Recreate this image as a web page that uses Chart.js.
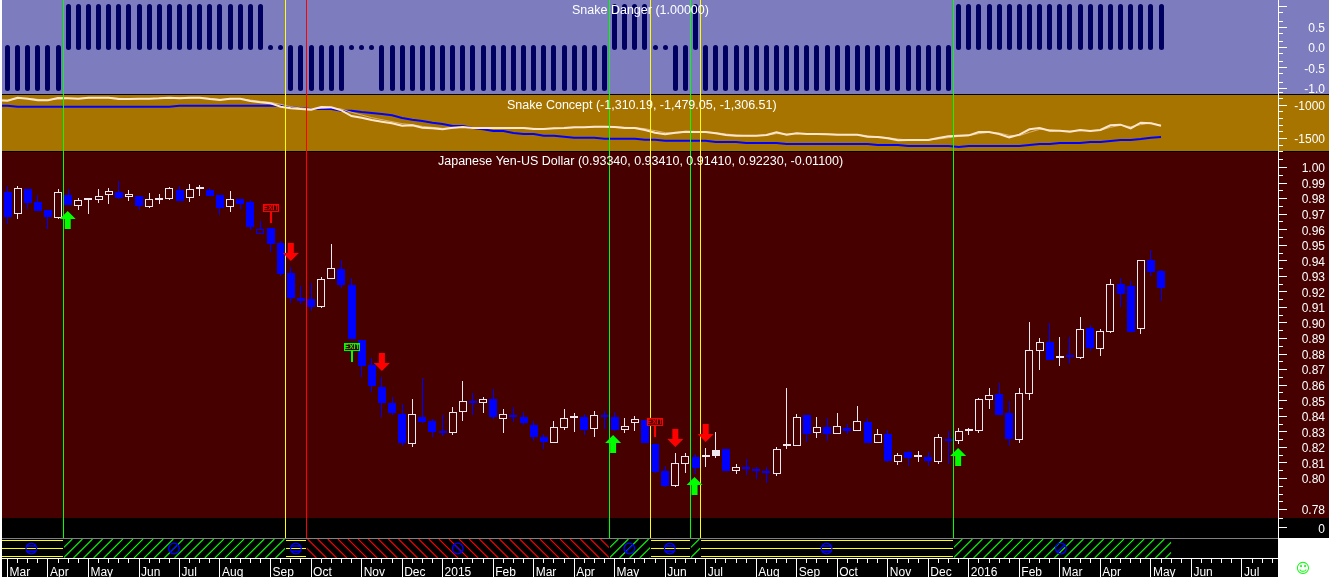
<!DOCTYPE html>
<html>
<head>
<meta charset="utf-8">
<title>Japanese Yen-US Dollar</title>
<script src="https://cdn.jsdelivr.net/npm/chart.js@4"></script>
<style>
    html, body { margin: 0; padding: 0; background: #fff; }
    canvas { display: block; }
</style>
</head>
<body>
<canvas id="chart" width="1329" height="577"></canvas>
<script>
// Weekly candles
const opens = [
    0.9842, 0.9703, 0.9860, 0.9778, 0.9727, 0.9675, 0.9823, 0.9751, 0.9788, 0.9791,
    0.9823, 0.9842, 0.9808, 0.9817, 0.9744, 0.9794, 0.9796, 0.9855, 0.9802, 0.9859,
    0.9855, 0.9821, 0.9744, 0.9796, 0.9778, 0.9603, 0.9611, 0.9513, 0.9320, 0.9161,
    0.9153, 0.9105, 0.9285, 0.9345, 0.9243, 0.8891, 0.8728, 0.8587, 0.8484, 0.8415,
    0.8224, 0.8394, 0.8368, 0.8301, 0.8295, 0.8430, 0.8497, 0.8484, 0.8510, 0.8385,
    0.8407, 0.8394, 0.8342, 0.8265, 0.8227, 0.8327, 0.8387, 0.8394, 0.8317, 0.8407,
    0.8394, 0.8314, 0.8355, 0.8376, 0.8222, 0.8047, 0.7952, 0.8095, 0.8137, 0.8139,
    0.8145, 0.8188, 0.8048, 0.8070, 0.8055, 0.8044, 0.8029, 0.8209, 0.8211, 0.8407,
    0.8295, 0.8329, 0.8288, 0.8325, 0.8308, 0.8364, 0.8227, 0.8286, 0.8108, 0.8171,
    0.8139, 0.8137, 0.8108, 0.8252, 0.8239, 0.8304, 0.8308, 0.8507, 0.8544, 0.8419,
    0.8250, 0.8546, 0.8822, 0.8878, 0.8775, 0.8788, 0.8775, 0.8968, 0.8835, 0.8944,
    0.9251, 0.9238, 0.8960, 0.9405, 0.9334
];
const highs = [
    0.9881, 0.9881, 0.9862, 0.9823, 0.9727, 0.9862, 0.9862, 0.9804, 0.9797, 0.9862,
    0.9868, 0.9913, 0.9855, 0.9817, 0.9836, 0.9830, 0.9875, 0.9881, 0.9894, 0.9887,
    0.9868, 0.9823, 0.9849, 0.9797, 0.9791, 0.9656, 0.9611, 0.9525, 0.9358, 0.9238,
    0.9255, 0.9294, 0.9508, 0.9405, 0.9289, 0.8891, 0.8775, 0.8651, 0.8522, 0.8479,
    0.8511, 0.8646, 0.8381, 0.8407, 0.8460, 0.8627, 0.8548, 0.8524, 0.8574, 0.8447,
    0.8460, 0.8428, 0.8368, 0.8286, 0.8370, 0.8447, 0.8421, 0.8415, 0.8434, 0.8432,
    0.8428, 0.8389, 0.8402, 0.8376, 0.8222, 0.8081, 0.8164, 0.8164, 0.8158, 0.8196,
    0.8299, 0.8188, 0.8094, 0.8126, 0.8074, 0.8074, 0.8203, 0.8582, 0.8417, 0.8407,
    0.8396, 0.8389, 0.8421, 0.8351, 0.8466, 0.8389, 0.8319, 0.8312, 0.8164, 0.8177,
    0.8177, 0.8171, 0.8286, 0.8306, 0.8325, 0.8325, 0.8518, 0.8582, 0.8614, 0.8499,
    0.8582, 0.9007, 0.8904, 0.9000, 0.8910, 0.8910, 0.9039, 0.8987, 0.8962, 0.9283,
    0.9289, 0.9270, 0.9403, 0.9470, 0.9341
];
const lows = [
    0.9637, 0.9669, 0.9733, 0.9720, 0.9605, 0.9669, 0.9759, 0.9727, 0.9701, 0.9772,
    0.9765, 0.9797, 0.9785, 0.9727, 0.9740, 0.9765, 0.9791, 0.9785, 0.9778, 0.9817,
    0.9817, 0.9695, 0.9714, 0.9733, 0.9598, 0.9572, 0.9459, 0.9302, 0.9127, 0.9122,
    0.9077, 0.9097, 0.9285, 0.9225, 0.8897, 0.8655, 0.8558, 0.8398, 0.8409, 0.8209,
    0.8203, 0.8355, 0.8267, 0.8274, 0.8282, 0.8370, 0.8407, 0.8421, 0.8383, 0.8293,
    0.8364, 0.8344, 0.8241, 0.8190, 0.8227, 0.8314, 0.8301, 0.8278, 0.8269, 0.8319,
    0.8306, 0.8293, 0.8306, 0.8227, 0.8036, 0.7946, 0.7946, 0.8036, 0.8029, 0.8074,
    0.8132, 0.8048, 0.8029, 0.8023, 0.7997, 0.7971, 0.8016, 0.8190, 0.8211, 0.8235,
    0.8261, 0.8239, 0.8288, 0.8286, 0.8308, 0.8229, 0.8227, 0.8106, 0.8087, 0.8081,
    0.8106, 0.8081, 0.8094, 0.8094, 0.8222, 0.8280, 0.8293, 0.8447, 0.8409, 0.8209,
    0.8229, 0.8505, 0.8698, 0.8764, 0.8724, 0.8737, 0.8769, 0.8820, 0.8788, 0.8936,
    0.9103, 0.8944, 0.8929, 0.9302, 0.9141
];
const closes = [
    0.9682, 0.9866, 0.9772, 0.9720, 0.9682, 0.9841, 0.9759, 0.9791, 0.9794, 0.9817,
    0.9849, 0.9804, 0.9828, 0.9752, 0.9797, 0.9801, 0.9866, 0.9785, 0.9860, 0.9865,
    0.9817, 0.9740, 0.9796, 0.9765, 0.9617, 0.9574, 0.9510, 0.9315, 0.9161, 0.9142,
    0.9103, 0.9281, 0.9352, 0.9244, 0.8897, 0.8726, 0.8597, 0.8486, 0.8421, 0.8229,
    0.8413, 0.8365, 0.8301, 0.8295, 0.8430, 0.8497, 0.8486, 0.8510, 0.8396, 0.8413,
    0.8396, 0.8357, 0.8267, 0.8237, 0.8329, 0.8387, 0.8400, 0.8314, 0.8407, 0.8396,
    0.8314, 0.8340, 0.8381, 0.8227, 0.8044, 0.7954, 0.8098, 0.8143, 0.8068, 0.8143,
    0.8184, 0.8048, 0.8074, 0.8061, 0.8047, 0.8038, 0.8188, 0.8216, 0.8398, 0.8288,
    0.8329, 0.8288, 0.8336, 0.8304, 0.8368, 0.8229, 0.8288, 0.8113, 0.8149, 0.8132,
    0.8145, 0.8113, 0.8265, 0.8241, 0.8304, 0.8312, 0.8510, 0.8535, 0.8409, 0.8254,
    0.8548, 0.8825, 0.8876, 0.8764, 0.8788, 0.8782, 0.8960, 0.8839, 0.8947, 0.9249,
    0.9189, 0.8944, 0.9403, 0.9328, 0.9223
];

// Snake Danger panel, one state per week: 1, -1 or 0 for a dot
const snakeStates = [
    -1, -1, -1, -1, -1, -1, 1, 1, 1, 1,
    1, 1, 1, 1, 1, 1, 1, 1, 1, 1,
    1, 1, 1, 1, 1, 1, 0, 0, -1, -1,
    -1, -1, -1, -1, 0, 0, 0, -1, -1, -1,
    -1, -1, -1, -1, -1, -1, -1, -1, -1, -1,
    -1, -1, -1, -1, -1, -1, -1, -1, -1, -1,
    1, 1, 1, 1, 0, 0, -1, -1, 1, -1,
    -1, -1, -1, -1, -1, -1, -1, -1, -1, -1,
    -1, -1, -1, -1, -1, -1, -1, -1, -1, -1,
    -1, -1, -1, -1, 1, 1, 1, 1, 1, 1,
    1, 1, 1, 1, 1, 1, 1, 1, 1, 1,
    1, 1, 1, 1, 1
];

// Snake Concept panel, these three start one week before the first candle
const conceptFast = [
    -930, -935, -890, -905, -930, -930, -895, -900, -905, -890,
    -890, -890, -910, -910, -905, -905, -900, -890, -900, -890,
    -890, -910, -925, -905, -905, -940, -960, -975, -1025, -1050,
    -1060, -1070, -1030, -1035, -1080, -1165, -1190, -1225, -1250, -1275,
    -1310, -1305, -1340, -1350, -1365, -1340, -1330, -1345, -1345, -1345,
    -1345, -1345, -1345, -1360, -1360, -1350, -1345, -1335, -1335, -1325,
    -1325, -1330, -1345, -1345, -1375, -1415, -1440, -1415, -1400, -1405,
    -1405, -1425, -1450, -1460, -1460, -1460, -1450, -1410, -1445, -1425,
    -1435, -1435, -1440, -1445, -1445, -1445, -1475, -1480, -1500, -1530,
    -1525, -1525, -1525, -1495, -1470, -1460, -1455, -1405, -1405, -1435,
    -1485, -1445, -1365, -1345, -1385, -1385, -1400, -1375, -1390, -1375,
    -1305, -1295, -1350, -1265, -1275, -1310
];
const conceptSlow = [
    -925, -925, -905, -900, -915, -925, -910, -900, -900, -895,
    -890, -890, -900, -905, -905, -905, -900, -895, -895, -895,
    -890, -900, -915, -910, -905, -925, -945, -960, -990, -1025,
    -1045, -1060, -1050, -1040, -1060, -1110, -1150, -1190, -1220, -1250,
    -1280, -1295, -1320, -1335, -1350, -1345, -1335, -1340, -1345, -1345,
    -1345, -1345, -1345, -1350, -1355, -1355, -1350, -1340, -1335, -1330,
    -1325, -1325, -1335, -1340, -1355, -1385, -1415, -1420, -1410, -1405,
    -1405, -1415, -1435, -1450, -1460, -1460, -1455, -1430, -1435, -1430,
    -1430, -1435, -1435, -1440, -1445, -1445, -1460, -1475, -1490, -1510,
    -1525, -1525, -1525, -1510, -1490, -1470, -1460, -1430, -1410, -1420,
    -1455, -1460, -1410, -1365, -1370, -1385, -1390, -1385, -1385, -1380,
    -1335, -1305, -1325, -1295, -1270, -1306
];
const conceptBase = [
    -1010, -1010, -1025, -1025, -1025, -1025, -1025, -1025, -1025, -1025,
    -1025, -1025, -1025, -1025, -1025, -1025, -1025, -1025, -1010, -1010,
    -1010, -1010, -1010, -1010, -1010, -1010, -1010, -1010, -1010, -1035,
    -1050, -1060, -1060, -1060, -1085, -1085, -1105, -1120, -1135, -1155,
    -1195, -1220, -1240, -1265, -1285, -1315, -1315, -1345, -1365, -1390,
    -1390, -1420, -1435, -1435, -1460, -1460, -1475, -1490, -1490, -1490,
    -1505, -1505, -1505, -1505, -1520, -1520, -1535, -1535, -1535, -1535,
    -1535, -1555, -1555, -1555, -1570, -1570, -1570, -1570, -1585, -1585,
    -1585, -1585, -1585, -1585, -1585, -1585, -1585, -1600, -1600, -1600,
    -1615, -1615, -1615, -1615, -1615, -1630, -1615, -1615, -1615, -1615,
    -1615, -1615, -1600, -1585, -1585, -1570, -1570, -1570, -1555, -1555,
    -1540, -1525, -1525, -1510, -1490, -1479
];

// Axis labels, month ticks sit on these week numbers
const monthWeeks = [
    0, 4, 8, 13, 17, 21, 26, 30, 35, 39, 43, 48, 52, 56, 60,
    65, 69, 74, 78, 82, 87, 91, 95, 100, 104, 108, 113, 117, 122
];
const monthLabels = [
    'Mar', 'Apr', 'May', 'Jun', 'Jul', 'Aug', 'Sep', 'Oct', 'Nov', 'Dec', '2015', 'Feb', 'Mar', 'Apr', 'May',
    'Jun', 'Jul', 'Aug', 'Sep', 'Oct', 'Nov', 'Dec', '2016', 'Feb', 'Mar', 'Apr', 'May', 'Jun', 'Jul'
];
const priceLabels = [
    1.00, 0.99, 0.98, 0.97, 0.96, 0.95, 0.94, 0.93, 0.92, 0.91, 0.90, 0.89,
    0.88, 0.87, 0.86, 0.85, 0.84, 0.83, 0.82, 0.81, 0.80, 0.78
];
const priceMinor = [
    1.005, 0.995, 0.985, 0.975, 0.965, 0.955, 0.945, 0.935, 0.925, 0.915, 0.905, 0.895,
    0.885, 0.875, 0.865, 0.855, 0.845, 0.835, 0.825, 0.815, 0.805, 0.79, 0.795, 0.785, 0.7745
];
const priceZeroTick = 0.7682;
const snakeLabels = [0.5, 0, -0.5, -1];
const snakeMinor = [1, 0.85, 0.65, 0.35, 0.15, -0.15, -0.35, -0.65, -0.85, -1.1];
const conceptLabels = [-1000, -1500];
const conceptMinor = [-900, -1100, -1200, -1300, -1400, -1600, -1700];

const panelTitles = {
    snake: 'Snake Danger (1.00000)',
    concept: 'Snake Concept (-1,310.19, -1,479.05, -1,306.51)',
    price: 'Japanese Yen-US Dollar (0.93340, 0.93410, 0.91410, 0.92230, -0.01100)'
};

// Signals: position changes between weeks and what was held after each one
const signalWeeks = [-0.55, 5.5, 27.5, 29.5, 59.5, 63.5, 67.5, 68.5, 93.5];
const signalStates = ['flat', 'long', 'flat', 'short', 'long', 'flat', 'long', 'flat', 'long'];
const signalEndWeek = 115;
const signalMarkWeeks = [2.35, 16.45, 28.5, 44.5, 61.45, 65.45, 80.95, 104.1];

const buyArrowWeeks = [5.95, 59.85, 67.9, 93.95];
const buyArrowPrices = [0.9720, 0.8280, 0.8010, 0.8196];
const sellArrowWeeks = [28, 37, 66, 69];
const sellArrowPrices = [0.9399, 0.8691, 0.8203, 0.8235];
const exitWeeks = [26, 34, 64];
const exitPrices = [0.9643, 0.8749, 0.8267];
const exitStates = ['short', 'long', 'short'];

const hollowDownWeeks = [25];
const solidUpWeeks = [70];

const COLORS = {
    purple: '#7c7cbe',
    gold: '#a87400',
    maroon: '#460000',
    navy: '#000060',
    blue: '#0000ff',
    white: '#f0e8f0',
    green: '#00ff00',
    yellow: '#ffff00',
    red: '#ff0000'
};
const FONT = "'Liberation Sans', Arial, sans-serif";
const stateColor = { long: COLORS.green, short: COLORS.red, flat: COLORS.yellow };

function isUp(i) {
    return closes[i] >= opens[i];
}

function snakeRange(state) {
    if (state > 0) return [-0.07, 1.07];
    if (state < 0) return [-1.07, 0.07];
    return [-0.05, 0.05];
}

// The page has a fixed layout, so no room is kept for overhanging labels
function noPadding(scale) {
    scale.paddingTop = 0;
    scale.paddingBottom = 0;
    scale.paddingLeft = 0;
    scale.paddingRight = 0;
}

function yAxis(extra, labels, minor) {
    const labelText = value => (labels.includes(value) ? extra.format(value) : '');
    return {
        position: 'right',
        stack: 'panels',
        min: extra.min,
        max: extra.max,
        stackWeight: extra.weight,
        afterFit: scale => {
            scale.width = 47;
            noPadding(scale);
        },
        afterBuildTicks: scale => {
            scale.ticks = labels.concat(minor).map(value => ({ value }));
        },
        border: { color: '#fff', width: 1 },
        grid: { drawOnChartArea: false, color: '#fff', tickLength: 5, tickWidth: 1 },
        ticks: {
            autoSkip: false,
            color: '#fff',
            crossAlign: 'far',
            labelOffset: 1.5,
            font: { family: FONT, size: 12 },
            callback: labelText
        }
    };
}

// Snap bars to whole pixels, the original is not antialiased
const crispBars = {
    id: 'crispBars',
    afterDatasetsUpdate(chart) {
        chart.data.datasets.forEach((dataset, index) => {
            if (dataset.type !== 'bar') return;
            chart.getDatasetMeta(index).data.forEach(bar => {
                bar.x = dataset.barThickness % 2 ? Math.floor(bar.x) + 0.5 : Math.round(bar.x);
                bar.y = Math.round(bar.y);
                bar.base = Math.round(bar.base);
                if (bar.y === bar.base) bar.base += 1;
            });
        });
    }
};

// Panel backgrounds go under the axes
const panelBackgrounds = {
    id: 'panelBackgrounds',
    beforeDraw(chart) {
        const { ctx, width, height, chartArea, scales } = chart;
        const left = chartArea.left;
        const w = width - left;
        ctx.save();
        ctx.fillStyle = '#000';
        ctx.fillRect(left, 0, w, height);
        ctx.fillStyle = COLORS.purple;
        ctx.fillRect(left, scales.ySnake.top, w, scales.ySnake.bottom - scales.ySnake.top);
        ctx.fillStyle = COLORS.gold;
        ctx.fillRect(left, scales.yConcept.top, w, scales.yConcept.bottom - scales.yConcept.top);
        ctx.fillStyle = COLORS.maroon;
        ctx.fillRect(left, scales.yPrice.top, w, 366);
        ctx.fillStyle = '#000';
        ctx.fillRect(left, scales.ySnake.bottom - 1, w, 1);
        ctx.fillRect(left, scales.yConcept.bottom - 1, w, 1);
        ctx.restore();
    }
};

function drawUpArrow(ctx, x, tip, color) {
    ctx.fillStyle = color;
    ctx.beginPath();
    ctx.moveTo(x, tip);
    ctx.lineTo(x + 8, tip + 8);
    ctx.lineTo(x + 3, tip + 8);
    ctx.lineTo(x + 3, tip + 18);
    ctx.lineTo(x - 3, tip + 18);
    ctx.lineTo(x - 3, tip + 8);
    ctx.lineTo(x - 8, tip + 8);
    ctx.closePath();
    ctx.fill();
}

function drawDownArrow(ctx, x, tip, color) {
    ctx.fillStyle = color;
    ctx.beginPath();
    ctx.moveTo(x, tip);
    ctx.lineTo(x + 8, tip - 8);
    ctx.lineTo(x + 3, tip - 8);
    ctx.lineTo(x + 3, tip - 18);
    ctx.lineTo(x - 3, tip - 18);
    ctx.lineTo(x - 3, tip - 8);
    ctx.lineTo(x - 8, tip - 8);
    ctx.closePath();
    ctx.fill();
}

function drawExit(ctx, x, base, color) {
    const px = Math.round(x);
    ctx.fillStyle = color;
    ctx.fillRect(px - 1, base - 14, 2, 14);
    ctx.fillRect(px - 8, base - 19, 16, 8);
    ctx.fillStyle = COLORS.maroon;
    ctx.fillRect(px - 7, base - 18, 14, 6);
    ctx.fillStyle = color;
    ctx.font = 'bold 7px ' + FONT;
    ctx.textAlign = 'center';
    ctx.textBaseline = 'middle';
    ctx.fillText('EXIT', px, base - 15);
}

function drawSignalBand(ctx, chart) {
    const { chartArea, scales } = chart;
    const x = scales.x;
    const top = chartArea.bottom - 19;
    const bottom = chartArea.bottom;

    ctx.fillStyle = '#808080';
    ctx.fillRect(chartArea.left, top - 1, chartArea.right - chartArea.left, 1);

    signalStates.forEach((state, i) => {
        const from = Math.floor(x.getPixelForValue(signalWeeks[i]));
        const endWeek = i + 1 < signalWeeks.length ? signalWeeks[i + 1] : signalEndWeek;
        const to = Math.floor(x.getPixelForValue(endWeek));
        ctx.save();
        ctx.beginPath();
        ctx.rect(from + 1, top, to - from - 1, 19);
        ctx.clip();
        ctx.strokeStyle = stateColor[state];
        ctx.lineWidth = state === 'flat' ? 1 : 1.1;
        ctx.beginPath();
        if (state === 'flat') {
            [1.5, 9.5, 17.5].forEach(off => {
                ctx.moveTo(from, top + off);
                ctx.lineTo(to, top + off);
            });
        } else {
            const dir = state === 'long' ? 1 : -1;
            for (let px = from - 40; px < to + 40; px += 10.1) {
                ctx.moveTo(px, bottom);
                ctx.lineTo(px + dir * 19, top);
            }
        }
        ctx.stroke();
        ctx.restore();
    });

    // blue marker in the middle of each signal block
    ctx.lineWidth = 1.3;
    const mid = top + 9.5;
    signalMarkWeeks.forEach(week => {
        const state = signalStates[signalWeeks.filter(w => w <= week).length - 1];
        const px = x.getPixelForValue(week);
        ctx.strokeStyle = COLORS.blue;
        ctx.beginPath();
        ctx.arc(px, mid, 5.3, 0, Math.PI * 2);
        if (state === 'flat') {
            ctx.moveTo(px - 4, mid - 2.5);
            ctx.lineTo(px + 4, mid - 2.5);
            ctx.moveTo(px - 4, mid + 2.5);
            ctx.lineTo(px + 4, mid + 2.5);
        } else {
            const dir = state === 'long' ? 1 : -1;
            ctx.moveTo(px - dir * 3.7, mid + 3.7);
            ctx.lineTo(px + dir * 3.7, mid - 3.7);
        }
        ctx.stroke();
    });
}

// Signal lines, arrows, the lower band and panel titles sit over the candles
const overlays = {
    id: 'overlays',
    afterDatasetsDraw(chart) {
        const { ctx, scales, chartArea, width, height } = chart;
        const x = scales.x;
        const y = scales.yPrice;

        ctx.save();

        drawSignalBand(ctx, chart);

        // vertical signal lines run from the top to the band
        signalWeeks.slice(1).forEach((week, i) => {
            const px = Math.floor(x.getPixelForValue(week)) + 0.5;
            ctx.strokeStyle = stateColor[signalStates[i + 1]];
            ctx.lineWidth = 1;
            ctx.beginPath();
            ctx.moveTo(px, 0);
            ctx.lineTo(px, chartArea.bottom - 20);
            ctx.stroke();
        });

        buyArrowWeeks.forEach((week, i) => {
            drawUpArrow(ctx, x.getPixelForValue(week), y.getPixelForValue(buyArrowPrices[i]), COLORS.green);
        });
        sellArrowWeeks.forEach((week, i) => {
            drawDownArrow(ctx, x.getPixelForValue(week), y.getPixelForValue(sellArrowPrices[i]), COLORS.red);
        });
        exitWeeks.forEach((week, i) => {
            drawExit(ctx, x.getPixelForValue(week), y.getPixelForValue(exitPrices[i]), stateColor[exitStates[i]]);
        });

        // longer white tick for every labelled value
        ctx.fillStyle = '#fff';
        const axisX = chartArea.right;
        [[scales.ySnake, snakeLabels.concat([1])], [scales.yConcept, conceptLabels], [y, priceLabels.concat([priceZeroTick])]]
            .forEach(([scale, values]) => {
                values.forEach(value => {
                    ctx.fillRect(axisX, Math.floor(scale.getPixelForValue(value)), 9, 1);
                });
            });
        monthWeeks.forEach(week => {
            ctx.fillRect(Math.floor(x.getPixelForValue(week)), chartArea.bottom, 1, height - chartArea.bottom);
        });

        // white corner under the axis
        ctx.fillRect(axisX, chartArea.bottom - 20, width - axisX, height - chartArea.bottom + 20);
        ctx.fillStyle = COLORS.green;
        ctx.font = '14px "DejaVu Sans"';
        ctx.textAlign = 'center';
        ctx.textBaseline = 'middle';
        ctx.fillText('\u263A', 1303, 569);

        ctx.fillStyle = '#fff';
        ctx.font = '12.5px ' + FONT;
        ctx.textAlign = 'left';
        ctx.fillText(panelTitles.snake, 572, scales.ySnake.top + 10.5);
        ctx.fillText(panelTitles.concept, 507, scales.yConcept.top + 11);
        ctx.fillText(panelTitles.price, 438, y.top + 10);

        ctx.restore();
    }
};

new Chart(document.getElementById('chart'), {
    type: 'bar',
    data: {
        datasets: [
            {
                type: 'bar',
                xAxisID: 'x',
                yAxisID: 'ySnake',
                grouped: false,
                barThickness: 5,
                order: 10,
                data: snakeStates.map((state, i) => ({ x: i, y: snakeRange(state) })),
                backgroundColor: COLORS.navy,
                borderRadius: 2.5,
                borderSkipped: false,
                inflateAmount: 0
            },
            {
                type: 'line',
                xAxisID: 'x',
                yAxisID: 'yConcept',
                order: 9,
                data: conceptBase.map((value, i) => ({ x: i - 1, y: value })),
                borderColor: COLORS.blue,
                borderWidth: 2,
                pointRadius: 0
            },
            {
                type: 'line',
                xAxisID: 'x',
                yAxisID: 'yConcept',
                order: 8,
                data: conceptSlow.map((value, i) => ({ x: i - 1, y: value })),
                borderColor: '#d8b070',
                borderWidth: 1,
                pointRadius: 0
            },
            {
                type: 'line',
                xAxisID: 'x',
                yAxisID: 'yConcept',
                order: 7,
                data: conceptFast.map((value, i) => ({ x: i - 1, y: value })),
                borderColor: '#ffe6cc',
                borderWidth: 2,
                pointRadius: 0
            },
            {
                // High-low wicks, the body covers them
                type: 'bar',
                xAxisID: 'x',
                yAxisID: 'yPrice',
                grouped: false,
                barThickness: 1,
                order: 6,
                data: highs.map((high, i) => ({ x: i, y: [lows[i], high] })),
                backgroundColor: highs.map((high, i) => (isUp(i) ? COLORS.white : COLORS.blue)),
                borderWidth: 0,
                inflateAmount: 0
            },
            {
                type: 'bar',
                xAxisID: 'x',
                yAxisID: 'yPrice',
                grouped: false,
                barThickness: 8,
                minBarLength: 2,
                order: 5,
                data: opens.map((open, i) => ({ x: i, y: [open, closes[i]] })),
                backgroundColor: opens.map((open, i) => {
                    if (solidUpWeeks.includes(i)) return COLORS.white;
                    if (hollowDownWeeks.includes(i)) return COLORS.maroon;
                    return isUp(i) ? COLORS.maroon : COLORS.blue;
                }),
                borderColor: opens.map((open, i) => (isUp(i) ? COLORS.white : COLORS.blue)),
                borderWidth: 1,
                borderSkipped: false,
                inflateAmount: 0
            }
        ]
    },
    options: {
        responsive: false,
        animation: false,
        events: [],
        layout: { padding: { left: 2, right: 4 } },
        plugins: {
            legend: { display: false },
            title: { display: false },
            tooltip: { enabled: false }
        },
        scales: {
            x: {
                type: 'linear',
                position: 'bottom',
                offset: false,
                min: -0.5436,
                max: 125.56,
                afterFit: scale => {
                    scale.height = 19;
                    noPadding(scale);
                },
                afterBuildTicks: scale => {
                    const weeks = [];
                    for (let week = 0; week <= 125; week++) weeks.push({ value: week });
                    scale.ticks = weeks;
                },
                border: { color: '#fff', width: 1 },
                grid: { offset: false, drawOnChartArea: false, color: '#fff', tickLength: 5, tickWidth: 1 },
                ticks: {
                    autoSkip: false,
                    maxRotation: 0,
                    minRotation: 0,
                    align: 'start',
                    labelOffset: 2,
                    padding: 2,
                    color: '#fff',
                    font: { family: FONT, size: 12 },
                    callback: value => {
                        const at = monthWeeks.indexOf(value);
                        return at >= 0 ? monthLabels[at] : '';
                    }
                }
            },
            ySnake: yAxis(
                { min: -1.17, max: 1.17, weight: 95, format: v => v.toFixed(1) },
                snakeLabels, snakeMinor),
            yConcept: yAxis(
                { min: -1705, max: -850, weight: 57, format: v => String(v) },
                conceptLabels, conceptMinor),
            yPrice: yAxis(
                { min: 0.74887, max: 1.00997, weight: 406, format: v => (v === priceZeroTick ? '0' : v.toFixed(2)) },
                priceLabels.concat([priceZeroTick]), priceMinor)
        }
    },
    plugins: [crispBars, panelBackgrounds, overlays]
});
</script>
</body>
</html>
